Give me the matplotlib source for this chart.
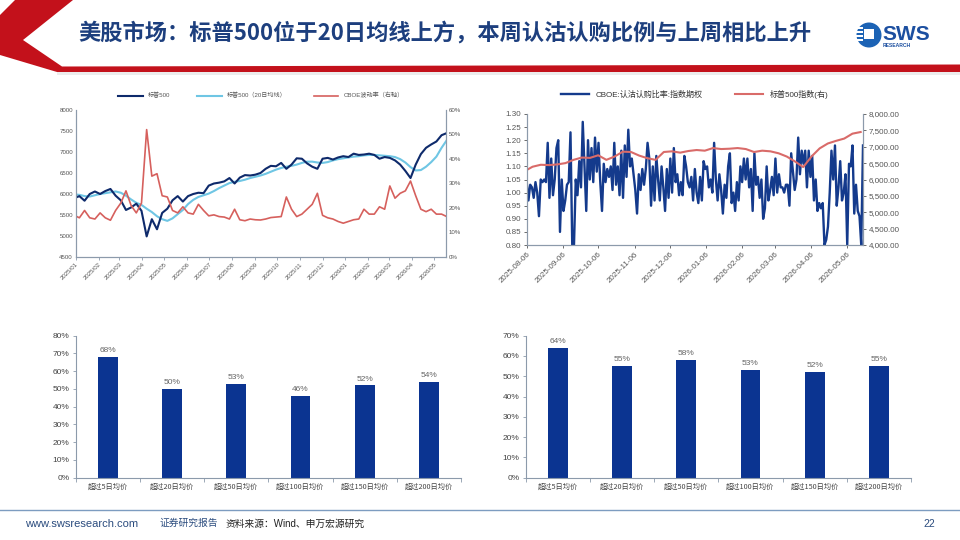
import numpy as np
import pandas as pd
import matplotlib
matplotlib.use("Agg")
import matplotlib.pyplot as plt
import matplotlib.dates as mdates
from matplotlib.patches import Polygon, Rectangle, Circle
from matplotlib.ticker import FuncFormatter, MultipleLocator

plt.rcParams['font.family'] = ['Liberation Sans', 'Noto Sans CJK SC', 'DejaVu Sans']
plt.rcParams['axes.unicode_minus'] = False

# ---------------- data ----------------
title = "美股市场：标普500位于20日均线上方，本周认沽认购比例与上周相比上升"

# weekly (Mondays) from 2024-12-30
sp500_weekly = [5900, 5950, 5840, 6000, 6060, 6000, 6070, 6120, 5960, 5850, 5620, 5680, 5770, 5600,
                4990, 5400, 5160, 5550, 5650, 5850, 5950, 5820, 5950, 6000, 6030, 6020, 6200, 6250,
                6270, 6300, 6380, 6250, 6390, 6450, 6440, 6460, 6500, 6600, 6670, 6660, 6740, 6600,
                6700, 6850, 6840, 6730, 6650, 6600, 6840, 6860, 6820, 6870, 6900, 6880, 6960, 6930,
                6940, 6960, 6930, 6840, 6880, 6860, 6800, 6700, 6550, 6380, 6700, 6950, 7100, 7180,
                7250, 7400, 7450]
sp500_ma20 = [5990, 5980, 5950, 5940, 5970, 6000, 6020, 6040, 6060, 6030, 5960, 5870, 5790, 5740,
              5650, 5570, 5470, 5400, 5360, 5420, 5520, 5620, 5760, 5860, 5930, 5970, 6010, 6070,
              6140, 6200, 6260, 6290, 6310, 6340, 6380, 6410, 6440, 6480, 6530, 6580, 6620, 6650,
              6670, 6700, 6740, 6770, 6770, 6750, 6740, 6760, 6800, 6830, 6850, 6870, 6890, 6900,
              6920, 6930, 6930, 6920, 6910, 6900, 6880, 6830, 6750, 6640, 6560, 6570, 6650, 6760,
              6890, 7100, 7280]
vix = [17, 16, 19, 16, 15.5, 18, 16, 15, 19, 22, 27, 21, 18, 22,
       52, 33, 34, 25, 24.5, 19, 18, 20.5, 18, 17.5, 21.5, 19, 16.8, 17.2,
       16.5, 16.3, 15.5, 19.5, 15.2, 14.8, 15.5, 15.2, 15.1, 15.5, 16.1, 16.3, 16.5, 24.5,
       19.5, 16.5, 17.5, 19.5, 21.5, 26, 17, 16, 15.5, 14.5, 13.8, 14.5, 15.2, 15.5,
       19.5, 17.5, 17.5, 20.5, 19.5, 29, 24, 26, 27, 31, 25, 19.5, 18.5, 19.5,
       17.5, 17.5, 16.5]

# CBOE put/call ratio (index options), 2025-08-06 .. 2026-05-20
pcr = [1.04, 0.97, 1.03, 1.02, 0.98, 1.04, 1.00, 0.91, 1.05, 1.04, 1.05, 1.04, 1.19, 0.98, 1.13,
       0.99, 1.05, 1.17, 1.20, 0.85, 1.05, 0.93, 0.97, 1.03, 1.04, 1.23, 0.80,
       0.80, 1.05, 0.99, 1.12, 1.02, 1.27, 1.10, 0.93, 1.20, 1.05, 1.17, 1.04, 1.21, 1.08, 1.19,
       1.04, 0.93, 1.11, 1.04, 1.09, 1.06, 1.10,
       1.01, 1.19, 1.03, 1.10, 0.99, 1.16, 0.98, 1.18, 1.06, 1.24, 1.10, 1.13, 1.07, 1.01, 0.92,
       1.07, 1.01, 1.09, 1.03, 1.09,
       1.19, 1.13, 0.95, 1.10, 0.97, 1.14, 1.05, 0.97, 1.10, 1.02, 0.93, 1.09, 0.98, 1.13, 1.00,
       1.17, 1.04, 1.07, 0.99,
       1.04, 0.99, 1.14, 1.10, 1.04, 1.02, 1.06, 0.97, 1.09, 1.00, 0.96, 1.06, 0.97, 1.12, 1.09,
       1.10, 1.02, 1.05,
       1.00, 1.19, 1.05, 0.97, 1.07, 1.01, 0.92, 1.03, 0.98, 1.10, 1.15, 0.96, 1.00, 0.93, 1.04,
       0.97, 1.10, 1.04, 1.13,
       1.05, 1.13, 1.02, 1.09, 0.93, 1.15, 1.03, 1.06, 0.98, 1.05, 0.90, 0.94, 1.10, 0.97, 1.01,
       1.06, 0.99, 1.13,
       1.00, 1.07, 1.02, 1.02, 1.00, 1.03, 1.03, 0.95, 1.15, 1.08, 1.01, 1.05, 1.21, 1.07, 1.16,
       1.11, 1.16, 1.02, 1.16, 1.06, 1.14,
       0.97, 1.05, 0.93, 0.96, 0.94, 0.96, 0.80, 0.82, 0.87, 1.00, 1.16, 1.05, 1.18, 0.95, 1.02,
       1.12, 0.97, 1.00, 1.07, 0.80, 1.11,
       1.10, 1.18, 0.92, 1.03, 0.93, 0.91, 0.80, 1.18]

bar_cats = ["超过5日均价", "超过20日均价", "超过50日均价", "超过100日均价", "超过150日均价", "超过200日均价"]
bars_left = [68, 50, 53, 46, 52, 54]
bars_right = [64, 55, 58, 53, 52, 55]

# ---------------- figure ----------------
W, H = 960, 540
fig = plt.figure(figsize=(9.6, 5.4), dpi=100)


def ax_px(x0, y0, x1, y1, **kw):
    return fig.add_axes([x0 / W, 1 - y1 / H, (x1 - x0) / W, (y1 - y0) / H], **kw)


# background/decoration
bg = ax_px(0, 0, W, H)
bg.set_xlim(0, W)
bg.set_ylim(H, 0)
bg.axis('off')
RED = '#c3111b'
bg.add_patch(Polygon([(15, 0), (73, 0), (23, 40), (62, 66.5), (960, 64.5), (960, 72), (57, 72),
                      (0, 55), (0, 15)],
                     closed=True, fc=RED, ec='none'))
bg.add_patch(Rectangle((57, 72), 903, 2.5, fc='#ececec', ec='none'))
bg.text(78, 33, title, fontsize=16, fontweight='bold', color='#1d3f7e', va='center', ha='left',
        family=['Noto Sans CJK SC', 'DejaVu Sans'])
# logo
bg.add_patch(Circle((869, 35), 12.5, fc='#1c63b5', ec='none'))
for yy in (28, 32, 36, 40):
    bg.add_patch(Rectangle((856, yy - 0.8), 7, 1.6, fc='white', ec='none'))
bg.add_patch(Rectangle((864, 29), 10, 10, fc='white', ec='none'))
bg.text(882, 34, "SWS", fontsize=15, fontweight='bold', color='#1c4fa0', va='center', ha='left',
        family=['Liberation Sans', 'DejaVu Sans'])
bg.text(883, 45.5, "RESEARCH", fontsize=3.6, fontweight='bold', color='#1c4fa0', va='center', ha='left')
# footer
bg.plot([0, 960], [510, 510], color='#7d9cc0', lw=1.0)
bg.text(25, 524, "www.swsresearch.com", fontsize=8, color='#2b4c7e', va='center', ha='left')
bg.text(160, 523, "证券研究报告", fontsize=7, color='#2b4c7e', va='center', ha='left')
bg.text(226, 524, "资料来源：Wind、申万宏源研究", fontsize=7, color='#222222', va='center', ha='left')
bg.text(935, 524, "22", fontsize=7.5, color='#2b4c7e', va='center', ha='right')

SP = '#0e2a6b'
LB = '#6fc6e4'
RD = '#d6605d'
GR = '#555555'
SPINE = '#8c9aab'

# ---------------- top-left ----------------
wk_dates = pd.date_range('2024-12-30', periods=len(sp500_weekly), freq='W-MON')
ax1 = ax_px(75.7, 110, 446, 257)
ax1.plot(wk_dates, sp500_weekly, color=SP, lw=1.5, label='标普500', zorder=3)
ax1.plot(wk_dates, sp500_ma20, color=LB, lw=1.5, label='标普500（20日均线）', zorder=2)
ax1r = ax1.twinx()
ax1r.plot(wk_dates, vix, color=RD, lw=1.2, label='CBOE波动率（右轴）')
ax1.set_xlim(pd.Timestamp('2025-01-01'), pd.Timestamp('2026-05-17'))
ax1.set_ylim(4500, 8000)
ax1.yaxis.set_major_locator(MultipleLocator(500))
ax1r.set_ylim(0, 60)
ax1r.yaxis.set_major_locator(MultipleLocator(10))
ax1r.yaxis.set_major_formatter(FuncFormatter(lambda v, p: f"{v:.0f}%"))
ax1.xaxis.set_major_locator(mdates.MonthLocator())
ax1.xaxis.set_major_formatter(mdates.DateFormatter('%Y/%m'))
for lab in ax1.get_xticklabels():
    lab.set_rotation(45)
    lab.set_ha('right')
    lab.set_rotation_mode('anchor')
for a in (ax1, ax1r):
    a.spines['top'].set_visible(False)
    for s in ('left', 'right', 'bottom'):
        a.spines[s].set_color(SPINE)
        a.spines[s].set_linewidth(0.8)
    a.tick_params(labelsize=4.4, colors=GR, length=2, width=0.6, pad=1.5)
    a.tick_params(axis='y', length=0, pad=2)
ax1.tick_params(axis='x', color=SPINE)
h1, l1 = ax1.get_legend_handles_labels()
h2, l2 = ax1r.get_legend_handles_labels()
ax1.legend(h1 + h2, l1 + l2, ncol=3, loc='lower center', bbox_to_anchor=(0.5, 1.06), frameon=False,
           fontsize=4.4, handlelength=4, columnspacing=4.5, labelcolor=GR, borderaxespad=0)

# ---------------- top-right ----------------
pcr_dates = pd.date_range('2025-08-06', '2026-05-20', periods=len(pcr))
ax2 = ax_px(526.7, 114, 863, 245)
ax2.plot(pcr_dates, pcr, color='#143a8c', lw=1.7, label='CBOE:认沽认购比率:指数期权')
ax2r = ax2.twinx()
sel = wk_dates >= pd.Timestamp('2025-08-04')
ax2r.plot(wk_dates[sel], np.array(sp500_weekly)[sel], color='#d96b69', lw=1.5, label='标普500指数(右)')
ax2.set_xlim(pd.Timestamp('2025-08-06'), pd.Timestamp('2026-05-20'))
ax2.set_ylim(0.80, 1.30)
ax2.yaxis.set_major_locator(MultipleLocator(0.05))
ax2.yaxis.set_major_formatter(FuncFormatter(lambda v, p: f"{v:.2f}"))
ax2r.set_ylim(4000, 8000)
ax2r.yaxis.set_major_locator(MultipleLocator(500))
ax2r.yaxis.set_major_formatter(FuncFormatter(lambda v, p: f"{v:,.2f}"))
ax2.xaxis.set_major_locator(mdates.MonthLocator(bymonthday=6))
ax2.xaxis.set_major_formatter(mdates.DateFormatter('%Y-%m-%d'))
for lab in ax2.get_xticklabels():
    lab.set_rotation(45)
    lab.set_ha('right')
    lab.set_rotation_mode('anchor')
for a in (ax2, ax2r):
    a.spines['top'].set_visible(False)
    for s in ('left', 'right', 'bottom'):
        a.spines[s].set_color(SPINE)
        a.spines[s].set_linewidth(0.8)
    a.tick_params(labelsize=5.8, colors=GR, length=2.5, width=0.6, pad=1.5)
h1, l1 = ax2.get_legend_handles_labels()
h2, l2 = ax2r.get_legend_handles_labels()
ax2.legend(h1 + h2, l1 + l2, ncol=2, loc='lower center', bbox_to_anchor=(0.5, 1.09), frameon=False,
           fontsize=5.8, handlelength=3.5, columnspacing=4, labelcolor='#333333', borderaxespad=0)


# ---------------- bottom bars ----------------
def bar_panel(ax, vals, ymax):
    x = np.arange(len(vals))
    ax.bar(x, vals, width=0.31, color='#0b3491')
    for xi, v in zip(x, vals):
        ax.text(xi, v + ymax * 0.02, f"{v}%", ha='center', va='bottom', fontsize=6, color='#666666')
    ax.set_xlim(-0.5, len(vals) - 0.5)
    ax.set_ylim(0, ymax)
    ax.yaxis.set_major_locator(MultipleLocator(10))
    ax.yaxis.set_major_formatter(FuncFormatter(lambda v, p: f"{v:.0f}%"))
    ax.set_xticks(x)
    ax.set_xticklabels(bar_cats, family=['Noto Sans CJK SC', 'DejaVu Sans'])
    ax.set_xticks(np.arange(len(vals) + 1) - 0.5, minor=True)
    ax.tick_params(axis='x', which='major', length=0, labelsize=5.2, colors='#444444', pad=4)
    ax.tick_params(axis='x', which='minor', length=3, color=SPINE, width=0.6)
    ax.tick_params(axis='y', labelsize=6, colors='#444444', length=2.5, color=SPINE, width=0.6, pad=2)
    for s in ('top', 'right'):
        ax.spines[s].set_visible(False)
    for s in ('left', 'bottom'):
        ax.spines[s].set_color(SPINE)
        ax.spines[s].set_linewidth(0.8)


ax3 = ax_px(75.7, 335.7, 461, 477.7)
bar_panel(ax3, bars_left, 80)
ax4 = ax_px(525.7, 335.7, 911, 477.7)
bar_panel(ax4, bars_right, 70)

fig.savefig('out.png', dpi=100)
